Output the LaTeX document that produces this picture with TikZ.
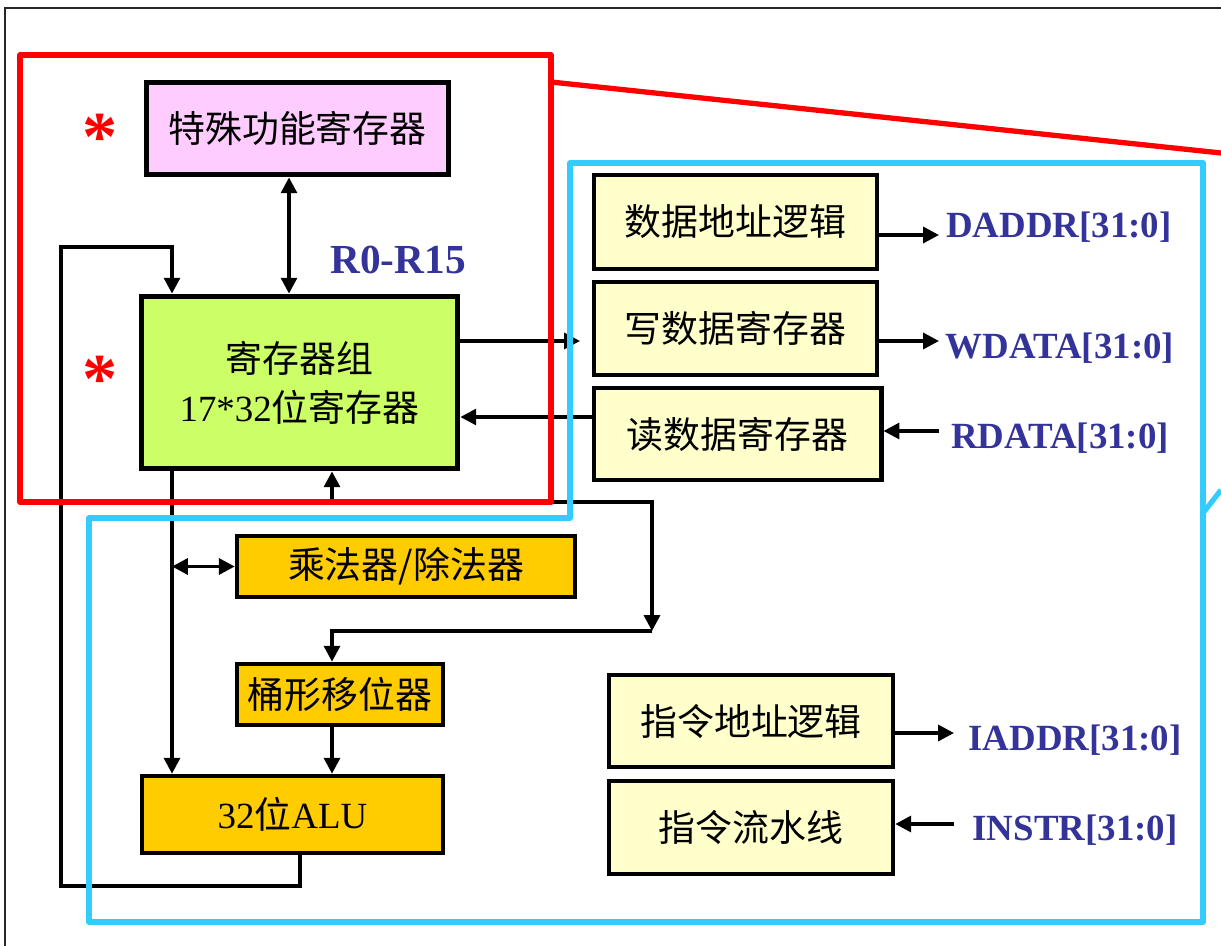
\documentclass[tikz,border=0pt]{standalone}
\usepackage{fontspec}
\setmainfont{Liberation Serif}
\newfontfamily\cjk{Noto Sans CJK SC}
\usetikzlibrary{arrows.meta}
\definecolor{pinkf}{HTML}{FFCCFF}
\definecolor{greenf}{HTML}{CCFF66}
\definecolor{yellowf}{HTML}{FFFFCC}
\definecolor{orangef}{HTML}{FFCC00}
\definecolor{lblue}{HTML}{333399}
\definecolor{cyanl}{HTML}{33CCFF}
\definecolor{redl}{HTML}{FF0000}
\begin{document}
\begin{tikzpicture}[x=0.02cm,y=-0.02cm,
  bigbox/.style={draw=black, line width=3pt, inner sep=0pt, align=center, font=\fontsize{21}{28}\selectfont},
  smallbox/.style={draw=black, line width=2.3pt, inner sep=0pt, align=center, font=\fontsize{21}{28}\selectfont},
  arr/.style={line width=2pt, line join=miter, -{Triangle[length=9pt,width=9pt]}},
  dbl/.style={line width=2pt, {Triangle[length=9pt,width=9pt]}-{Triangle[length=9pt,width=9pt]}},
  lbl/.style={text=lblue, font=\fontsize{21}{24}\selectfont\bfseries, inner sep=0pt, anchor=base},
  star/.style={text=redl, font=\fontsize{40}{40}\selectfont\bfseries, inner sep=0pt},
  redline/.style={draw=redl, line width=3pt, line join=round},
  cyanline/.style={draw=cyanl, line width=3pt, line join=round}
]
\useasboundingbox (0,0) rectangle (1221,946);
\fill[white] (0,0) rectangle (1221,946);
% outer frame
\draw[line width=1.1pt, black!85] (5,946) -- (5,8) -- (1221,8);

% boxes
\node[bigbox, fill=pinkf, minimum width=6.05cm, minimum height=1.85cm] (sfr) at (297.5,128.5) {\cjk 特殊功能寄存器};
\node[bigbox, fill=greenf, minimum width=6.33cm, minimum height=3.45cm] (reg) at (299.5,382.5) {{\cjk 寄存器组}\\17*32{\cjk 位寄存器}};
\node[smallbox, fill=yellowf, minimum width=5.67cm, minimum height=1.89cm] (dbox) at (735.5,222) {\cjk 数据地址逻辑};
\node[smallbox, fill=yellowf, minimum width=5.67cm, minimum height=1.87cm] (wbox) at (735.5,328.5) {\cjk 写数据寄存器};
\node[smallbox, fill=yellowf, minimum width=5.76cm, minimum height=1.85cm] (rbox) at (737.5,434) {\cjk 读数据寄存器};
\node[smallbox, fill=orangef, minimum width=6.77cm, minimum height=1.23cm] (mul) at (406,566.5) {\cjk 乘法器/除法器};
\node[smallbox, fill=orangef, minimum width=4.13cm, minimum height=1.23cm] (shift) at (340,694.5) {\cjk 桶形移位器};
\node[smallbox, fill=orangef, minimum width=6.03cm, minimum height=1.55cm] (alu) at (292.5,814.5) {32{\cjk 位}ALU};
\node[smallbox, fill=yellowf, minimum width=5.69cm, minimum height=1.85cm] (ibox) at (751,721) {\cjk 指令地址逻辑};
\node[smallbox, fill=yellowf, minimum width=5.69cm, minimum height=1.87cm] (pbox) at (751,827.5) {\cjk 指令流水线};

% labels
\node[lbl, font=\fontsize{23.5}{26}\selectfont\bfseries] (rr) at (398,273) {R0-R15};
\node[lbl] (dl) at (1059,237) {DADDR[31:0]};
\node[lbl] (wl) at (1060,358) {WDATA[31:0]};
\node[lbl] (rl) at (1060,448) {RDATA[31:0]};
\node[lbl] (il) at (1075,750) {IADDR[31:0]};
\node[lbl] (pl) at (1075,840) {INSTR[31:0]};
\node[star] (s1) at (100,137) {*};
\node[star] (s2) at (100,379) {*};

% helper coordinates
\coordinate (xL) at (172,0);
\coordinate (xM) at (332,0);
\coordinate (xS) at (289,0);
\coordinate (xA) at (300,0);
\coordinate (xF) at (61,0);
\coordinate (xR) at (652,0);
\coordinate (yTop) at (0,247);
\coordinate (yBot) at (0,886);
\coordinate (yBus) at (0,502);
\coordinate (yBus2) at (0,631);
\coordinate (yR) at (0,417);
\coordinate (wEnd) at (580,341);
\coordinate (dEnd) at (939,235);
\coordinate (wOut) at (939,341);
\coordinate (rIn) at (939,431);
\coordinate (iOut) at (954,733);
\coordinate (pIn) at (954,824);

% connectors
\draw[dbl] (sfr.south -| xS) -- (reg.north -| xS);
\draw[arr] (alu.south -| xA) -- (xA |- yBot) -- (xF |- yBot) -- (xF |- yTop) -- (xL |- yTop) -- (reg.north -| xL);
\draw[arr] (reg.east |- wEnd) -- (wEnd);
\draw[arr] (rbox.west |- yR) -- (reg.east |- yR);
\draw[arr] (reg.south -| xL) -- (alu.north -| xL);
\draw[dbl] (xL |- mul.west) -- (mul.west);
\draw[arr] (xM |- yBus) -- (reg.south -| xM);
\draw[arr] (xM |- yBus) -- (xR |- yBus) -- (xR |- yBus2);
\draw[arr] (xR |- yBus2) -- (xM |- yBus2) -- (shift.north -| xM);
\draw[arr] (shift.south -| xM) -- (alu.north -| xM);
\draw[arr] (dbox.east |- dEnd) -- (dEnd);
\draw[arr] (wbox.east |- wOut) -- (wOut);
\draw[arr] (rIn) -- (rbox.east |- rIn);
\draw[arr] (ibox.east |- iOut) -- (iOut);
\draw[arr] (pIn) -- (pbox.east |- pIn);

% outlines
\draw[redline] (20,55) rectangle (551,502);
\draw[redline] (551,82) -- (1221,153);
\draw[cyanline] (570,163) -- (1203,163) -- (1203,922) -- (89,922) -- (89,518) -- (570,518) -- cycle;
\draw[cyanline] (1203,513) -- (1221,490);
\end{tikzpicture}
\end{document}
